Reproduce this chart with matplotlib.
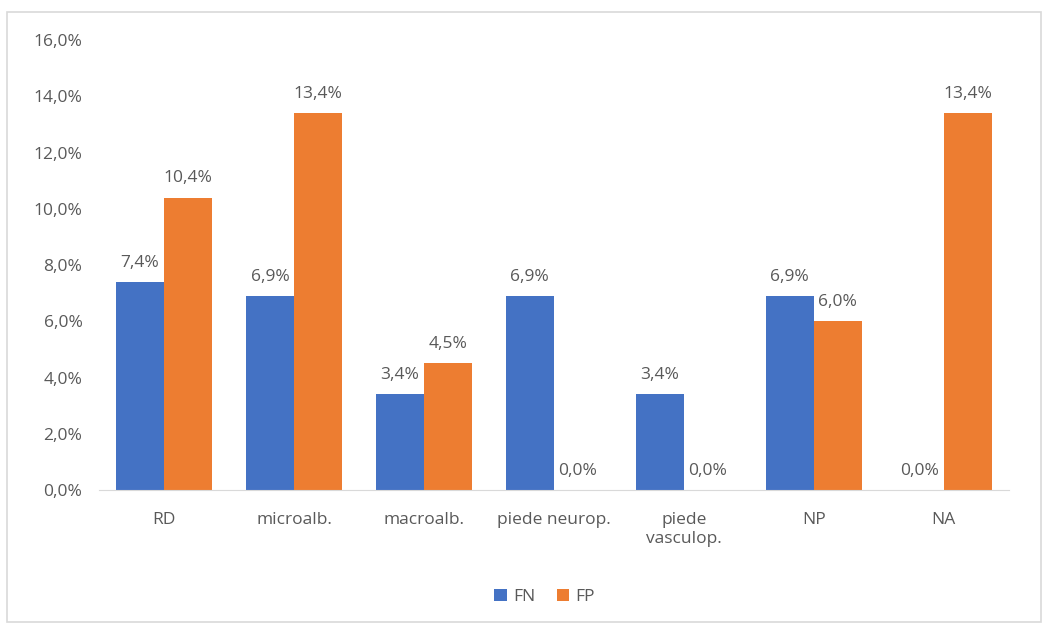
import numpy as np
import matplotlib.pyplot as plt
from matplotlib.patches import Rectangle
from matplotlib.ticker import FuncFormatter

categories = ["RD", "microalb.", "macroalb.", "piede neurop.", "piede\nvasculop.", "NP", "NA"]
fn_values = [7.4, 6.9, 3.4, 6.9, 3.4, 6.9, 0.0]
fp_values = [10.4, 13.4, 4.5, 0.0, 0.0, 6.0, 13.4]

blue = "#4472C4"
orange = "#ED7D31"
text_gray = "#595959"

plt.rcParams['font.family'] = ['Open Sans', 'DejaVu Sans']

fig = plt.figure(figsize=(10.43, 6.24), dpi=100)
ax = fig.add_axes([0.095, 0.2147, 0.872, 0.7212])

# chart border like the spreadsheet frame
fig.patches.append(Rectangle((7 / 1043, 2 / 624), 1034 / 1043, 610 / 624, transform=fig.transFigure,
                             fill=False, edgecolor="#d9d9d9", linewidth=1.2))

x = np.arange(len(categories))
w = 0.37
b1 = ax.bar(x - w / 2, fn_values, w, color=blue, label="FN")
b2 = ax.bar(x + w / 2, fp_values, w, color=orange, label="FP")

def pct(v):
    return f"{v:.1f}%".replace(".", ",")

for bars, vals in [(b1, fn_values), (b2, fp_values)]:
    for bar, v in zip(bars, vals):
        ax.annotate(pct(v), (bar.get_x() + bar.get_width() / 2, v), xytext=(0, 8),
                    textcoords="offset points", ha="center", va="bottom",
                    fontsize=12.5, color=text_gray)

ax.set_xlim(-0.5, len(categories) - 0.5)
ax.set_ylim(0, 16)
ax.set_yticks(np.arange(0, 16.1, 2))
ax.yaxis.set_major_formatter(FuncFormatter(lambda v, p: pct(v)))
ax.set_xticks(x)
ax.set_xticklabels(categories)

for s in ["top", "right", "left"]:
    ax.spines[s].set_visible(False)
ax.spines["bottom"].set_color("#d9d9d9")
ax.tick_params(axis="both", length=0, labelsize=12.5, colors=text_gray)
ax.tick_params(axis="y", pad=12)
ax.tick_params(axis="x", pad=16)

ax.legend(loc="upper center", bbox_to_anchor=(0.49, -0.185), ncol=2, frameon=False,
          fontsize=12.5, labelcolor=text_gray, handlelength=0.7, handleheight=0.7,
          handletextpad=0.4, columnspacing=1.2)

fig.savefig("out.png", dpi=100)
